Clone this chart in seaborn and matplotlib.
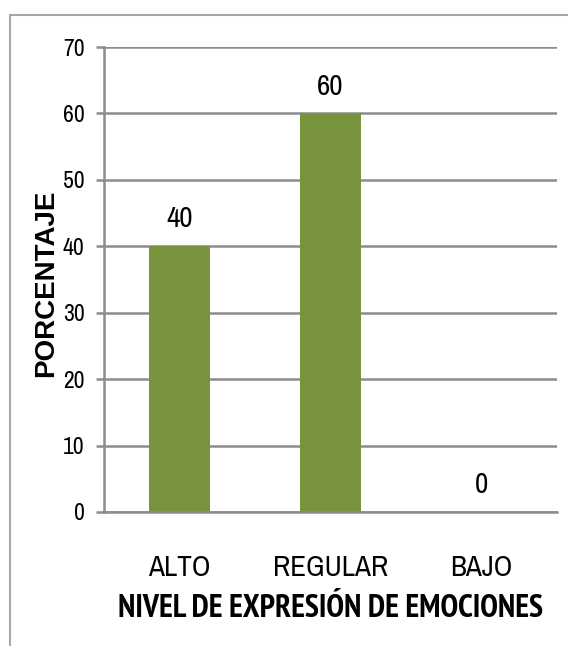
import matplotlib
matplotlib.use("Agg")
import matplotlib.pyplot as plt
from matplotlib import font_manager
from matplotlib.font_manager import FontProperties
from matplotlib.lines import Line2D
import seaborn as sns
import pandas as pd

niveles = ["ALTO", "REGULAR", "BAJO"]
porcentajes = [40, 60, 0]
y_ticks = [0, 10, 20, 30, 40, 50, 60, 70]

sns.set_theme(style="white")

candidates = ["Liberation Sans Narrow", "Arial Narrow", "Archivo Narrow", "PT Sans Narrow",
              "Roboto Condensed", "Open Sans Condensed", "Liberation Sans"]
entries = font_manager.fontManager.ttflist
installed = {f.name for f in entries}
narrow_family = next((n for n in candidates if n in installed), "DejaVu Sans")


def bold_file(name):
    for f in entries:
        w = f.weight if isinstance(f.weight, int) else {"bold": 700}.get(str(f.weight), 400)
        if f.name == name and w >= 700 and f.style == "normal" and "variable" not in f.fname.lower() \
                and "[" not in f.fname:
            return f.fname
    return None


narrow_bold = None
for n in candidates:
    if n in installed:
        narrow_bold = bold_file(n)
        if narrow_bold:
            break


def fp(size, bold=False):
    if bold and narrow_bold:
        return FontProperties(fname=narrow_bold, size=size)
    return FontProperties(family=narrow_family, weight="bold" if bold else "normal", size=size)


W, H = 568, 646
fig = plt.figure(figsize=(W / 100, H / 100), dpi=100)
ax = fig.add_axes([104 / W, 1 - 512 / H, (557 - 104) / W, (512 - 47) / H])

df = pd.DataFrame({"nivel": niveles, "porcentaje": porcentajes})
sns.barplot(data=df, x="nivel", y="porcentaje", color="#77933C", saturation=1,
            width=0.4, linewidth=0, ax=ax)

ax.set_xlim(-0.5, 2.5)
ax.set_ylim(0, 70)
ax.set_yticks(y_ticks)
ax.set_yticklabels([str(v) for v in y_ticks], fontproperties=fp(17))
ax.set_xticks(range(len(niveles)))
ax.set_xticklabels(niveles, fontproperties=fp(21))

grid_col = "#8C8C8C"
ax.yaxis.grid(True, color=grid_col, linewidth=1.8)
ax.set_axisbelow(True)
for side in ["top", "right"]:
    ax.spines[side].set_visible(False)
for side in ["left", "bottom"]:
    ax.spines[side].set_color(grid_col)
    ax.spines[side].set_linewidth(1.8)
ax.tick_params(axis="y", which="major", left=True, length=6, width=1.8,
               color=grid_col, pad=8, labelcolor="black")
ax.tick_params(axis="x", which="major", bottom=False, pad=24, labelcolor="black")

for cont in ax.containers:
    ax.bar_label(cont, labels=[str(v) for v in porcentajes], padding=10,
                 fontproperties=fp(21), color="black")

ax.set_xlabel("NIVEL DE EXPRESIÓN DE EMOCIONES", fontproperties=fp(23, bold=True),
              color="black")
ax.xaxis.set_label_coords(0.5, -0.176)
ax.set_ylabel("PORCENTAJE", fontproperties=FontProperties(family="Liberation Sans",
                                                          weight="bold", size=20),
              color="black")
ax.yaxis.set_label_coords(-0.098, 0.491)

# chart-area frame (top and left edges)
frame_col = "#A6A6A6"
fig.add_artist(Line2D([10 / W, 1.0], [1 - 15 / H, 1 - 15 / H], transform=fig.transFigure,
                      color=frame_col, linewidth=1.5))
fig.add_artist(Line2D([10 / W, 10 / W], [0.0, 1 - 15 / H], transform=fig.transFigure,
                      color=frame_col, linewidth=1.5))

fig.savefig("out.png", dpi=100, facecolor="white")
